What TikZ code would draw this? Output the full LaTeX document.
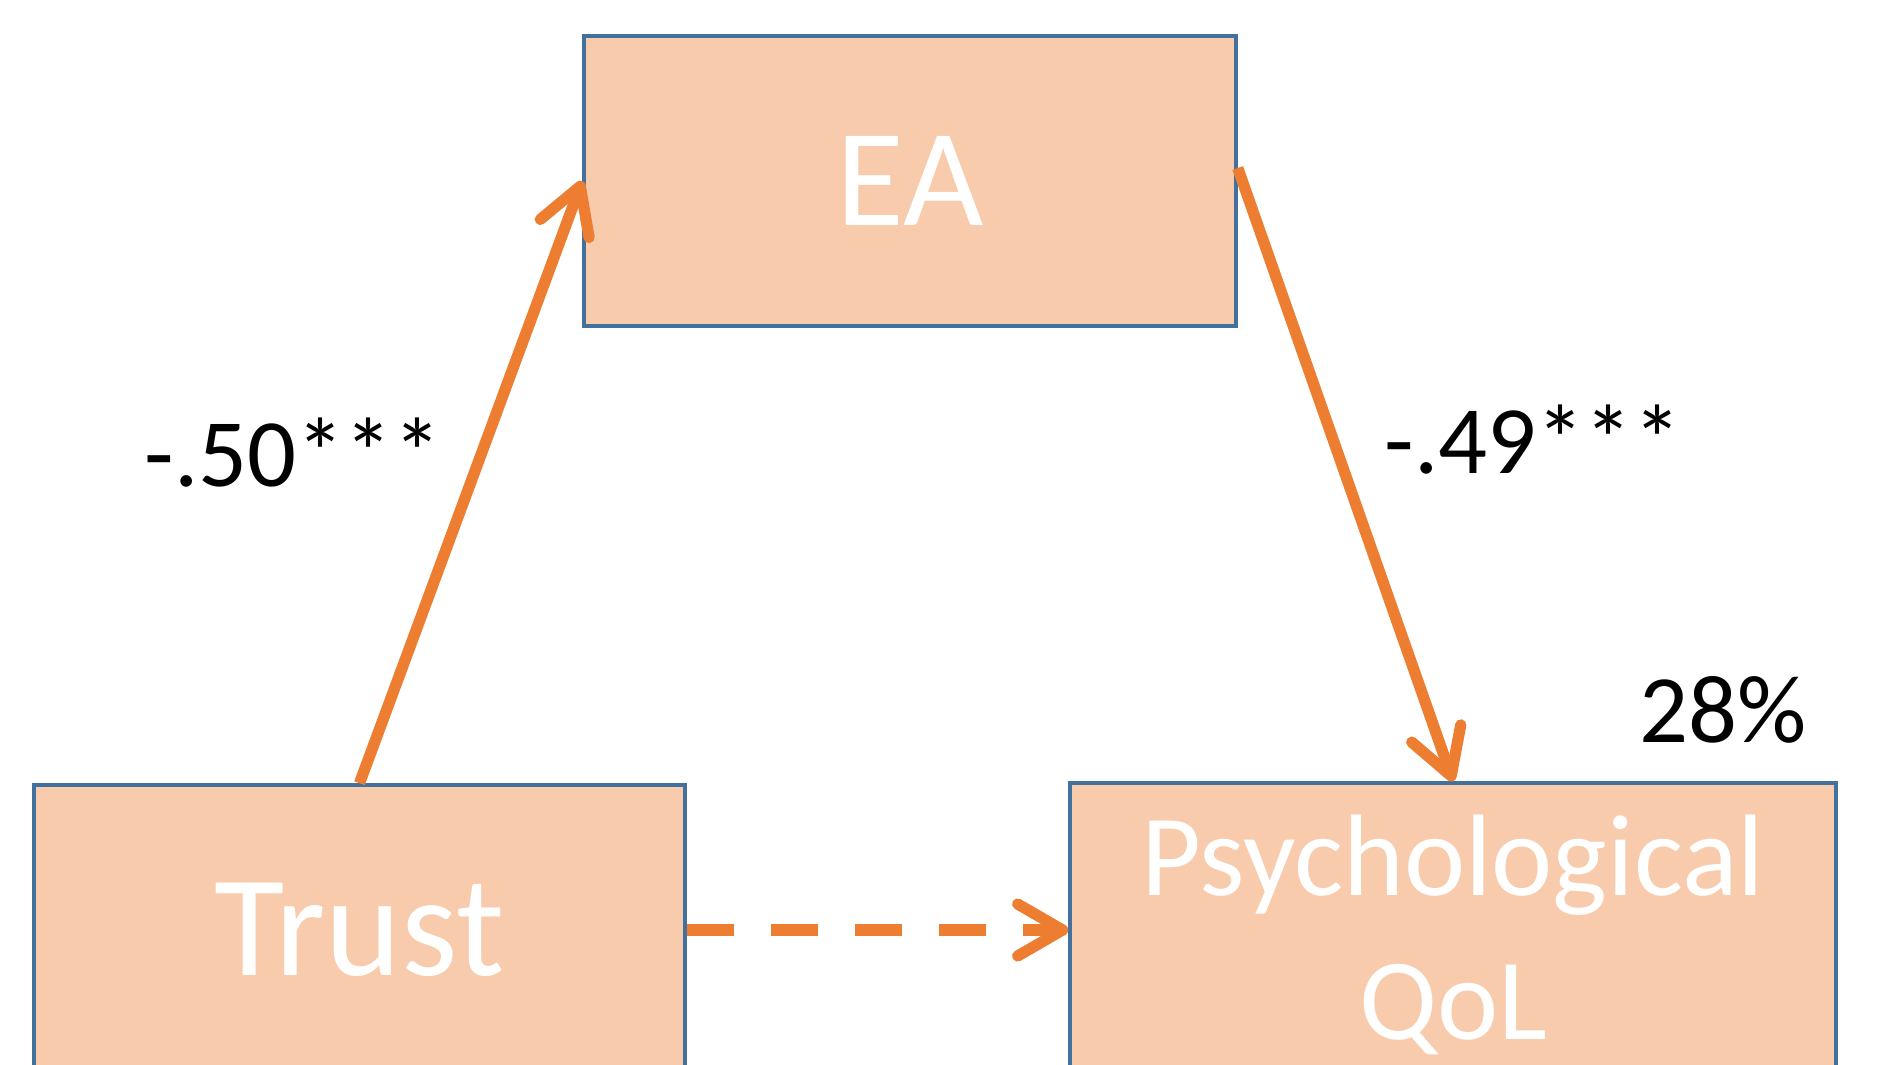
\documentclass[tikz,border=0pt]{standalone}
\usepackage{fontspec}
\setmainfont{Carlito}
\usetikzlibrary{arrows.meta}
\definecolor{boxfill}{HTML}{F8CBAD}
\definecolor{boxline}{HTML}{41719C}
\definecolor{arr}{HTML}{ED7D31}
\begin{document}
\begin{tikzpicture}[
  var/.style={rectangle,draw=boxline,line width=1pt,fill=boxfill,text=white,inner sep=0pt,minimum height=2.9cm},
  path/.style={line width=3.2pt,arr,-{Straight Barb[length=0.45cm,width=0.52cm,round]}},
  coef/.style={font=\fontsize{27.5}{32}\selectfont}]
\useasboundingbox (0,0) rectangle (18.78,10.64);
\clip (0,0) rectangle (18.78,10.64);
% the three variables
\node[var,minimum width=6.52cm,font=\fontsize{39.5}{46}\selectfont] (ea) at (9.10,8.83) {EA};
\node[var,minimum width=6.51cm,font=\fontsize{41}{48}\selectfont] (trust) at (3.595,1.34) {Trust};
\node[var,minimum width=7.66cm,minimum height=3.04cm,align=center,font=\fontsize{33}{41}\selectfont] (qol) at (14.53,1.29) {Psychological\\QoL};
% paths a and b, direct path dashed
\draw[path] (trust.north) -- (ea.west);
\draw[path] ([yshift=0.13cm]ea.east) -- (qol.north);
\draw[path,dash pattern=on 0.47cm off 0.37cm] (trust.east) -- (trust.east -| qol.west);
% coefficients and explained variance
\node[coef] (a) at (2.93,6.11) {-.50***};
\node[coef] (b) at (15.33,6.24) {-.49***};
\node[coef] (r2) at (17.23,3.54) {28\%};
\end{tikzpicture}
\end{document}
